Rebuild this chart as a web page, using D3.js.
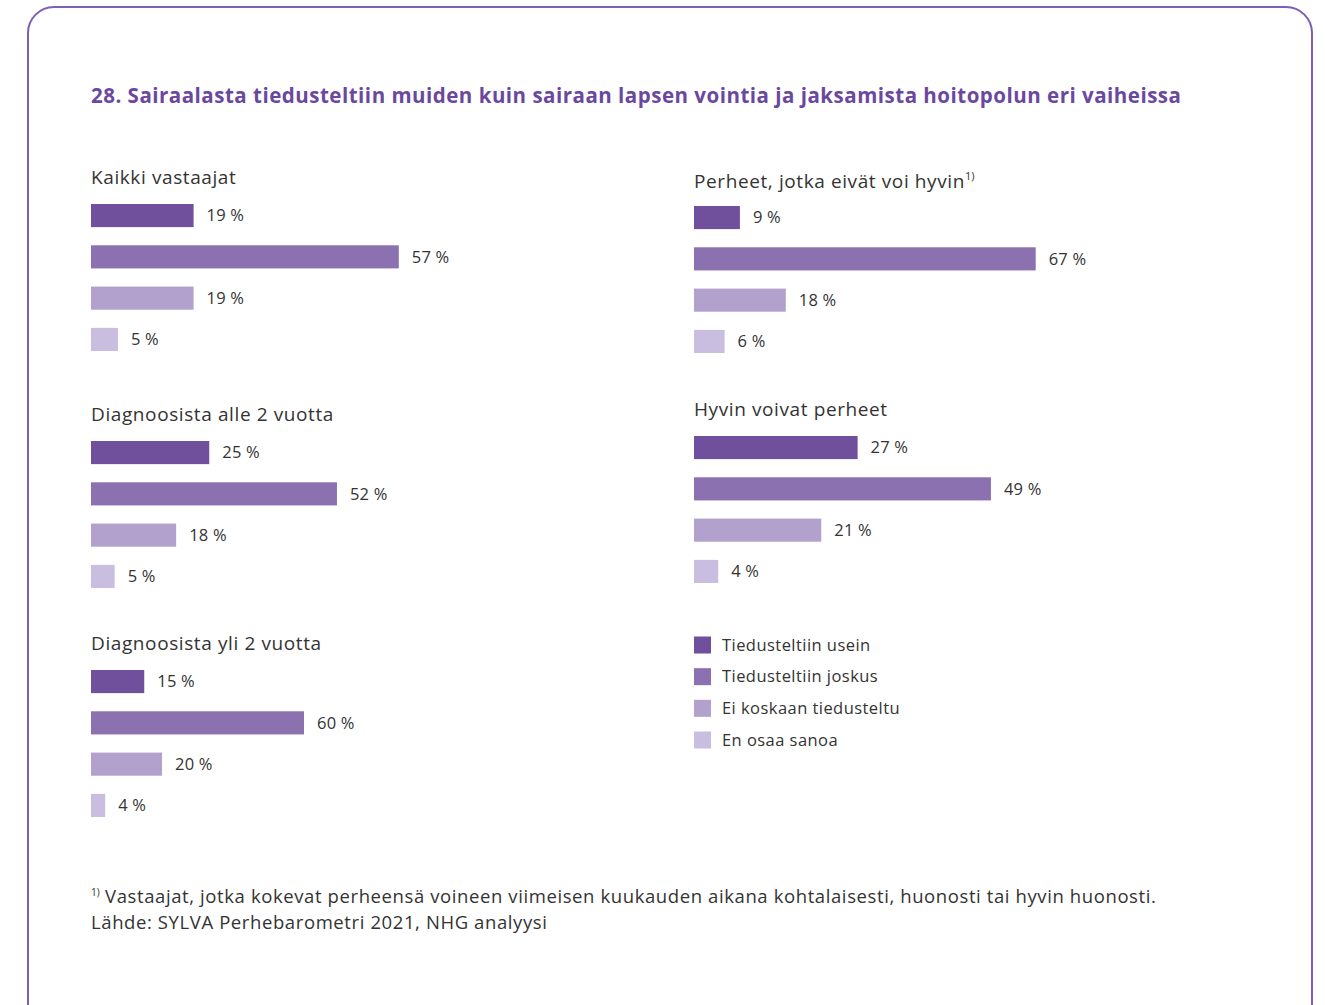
<!DOCTYPE html>
<html>
<head>
<meta charset="utf-8">
<script src="https://cdn.jsdelivr.net/npm/d3@7"></script>
<style>
  body { margin: 0; background: #fff; }
  svg text { font-family: "Open Sans", "Noto Sans", sans-serif; }
  .panelTitle { font-size: 19px; fill: #333; letter-spacing: 0.6px; }
  .valueLabel { font-size: 16.5px; fill: #333; letter-spacing: 0.2px; }
  .legendText { font-size: 16.5px; fill: #333; letter-spacing: 0.45px; }
  .footnote { font-size: 18.5px; fill: #333; letter-spacing: 0.6px; }
  .chartTitle { font-size: 20.5px; font-weight: 700; fill: #6b48a0; letter-spacing: 0.5px; }
</style>
</head>
<body>
<div id="chart"></div>
<script>
// answer categories (one bar each, in order)
var categories = ["Tiedusteltiin usein", "Tiedusteltiin joskus", "Ei koskaan tiedusteltu", "En osaa sanoa"];
var colors = ["#70509d", "#8b71b0", "#b3a1cd", "#c9bde0"];

// respondent groups
var groups = ["Kaikki vastaajat", "Diagnoosista alle 2 vuotta", "Diagnoosista yli 2 vuotta",
              "Perheet, jotka eivät voi hyvin", "Hyvin voivat perheet"];

// percentages per group, same order as categories
var kaikki = [19, 57, 19, 5];
var alle2 = [25, 52, 18, 5];
var yli2 = [15, 60, 20, 4];
var eivatVoiHyvin = [9, 67, 18, 6];
var hyvinVoivat = [27, 49, 21, 4];
var values = [kaikki, alle2, yli2, eivatVoiHyvin, hyvinVoivat];

var titleText = "28. Sairaalasta tiedusteltiin muiden kuin sairaan lapsen vointia ja jaksamista hoitopolun eri vaiheissa";
var footnote1 = " Vastaajat, jotka kokevat perheensä voineen viimeisen kuukauden aikana kohtalaisesti, huonosti tai hyvin huonosti.";
var footnote2 = "Lähde: SYLVA Perhebarometri 2021, NHG analyysi";

var width = 1325, height = 1005;

// where each small panel sits; w = pixel length of 100 %
var layout = [
    {x: 91, y: 184, w: 540},
    {x: 91, y: 421, w: 473},
    {x: 91, y: 650, w: 355},
    {x: 694, y: 188, w: 510},
    {x: 694, y: 416, w: 606}
];

var svg = d3.select("#chart").append("svg")
    .attr("width", width)
    .attr("height", height);

//frame round the whole figure
svg.append("rect")
    .attr("x", 28)
    .attr("y", 7)
    .attr("width", 1284)
    .attr("height", 1030)
    .attr("rx", 26)
    .attr("fill", "none")
    .attr("stroke", "#7e5fb5")
    .attr("stroke-width", 2);

svg.append("text")
    .attr("class", "chartTitle")
    .attr("x", 91)
    .attr("y", 103)
    .text(titleText);

// vertical placement of the 4 bars inside a panel
var yBand = d3.scaleBand()
    .domain(categories)
    .range([0, 147])
    .paddingInner(0.44)
    .paddingOuter(0);

groups.forEach(function(name, i) {
    var pos = layout[i];
    var g = svg.append("g")
        .attr("transform", "translate(" + pos.x + "," + pos.y + ")");

    var title = g.append("text")
        .attr("class", "panelTitle")
        .attr("x", 0)
        .attr("y", 0)
        .text(name);
    if (i == 3) {
        title.append("tspan")
            .attr("dy", -8)
            .style("font-size", "11px")
            .style("letter-spacing", "0px")
            .text("1)");
    }

    var xScale = d3.scaleLinear()
        .domain([0, 100])
        .range([0, pos.w]);

    var rows = categories.map(function(c, j) {
        return {cat: c, value: values[i][j], color: colors[j]};
    });

    var barTop = i == 3 ? 18 : 20;
    var bars = g.append("g").attr("transform", "translate(0," + barTop + ")");

    bars.selectAll("rect")
        .data(rows)
        .enter()
        .append("rect")
        .attr("x", 0)
        .attr("y", function(d) { return yBand(d.cat); })
        .attr("width", function(d) { return xScale(d.value); })
        .attr("height", yBand.bandwidth())
        .attr("fill", function(d) { return d.color; });

    bars.selectAll("text")
        .data(rows)
        .enter()
        .append("text")
        .attr("class", "valueLabel")
        .attr("x", function(d) { return xScale(d.value) + 13; })
        .attr("y", function(d) { return yBand(d.cat) + yBand.bandwidth() / 2; })
        .attr("dy", "0.35em")
        .text(function(d) { return d.value + " %"; });
});

// legend
var legendY = d3.scalePoint()
    .domain(categories)
    .range([645, 740]);

var legend = svg.append("g");
legend.selectAll("rect")
    .data(categories)
    .enter()
    .append("rect")
    .attr("x", 694)
    .attr("y", function(d) { return legendY(d) - 8.5; })
    .attr("width", 17)
    .attr("height", 17)
    .attr("fill", function(d, i) { return colors[i]; });
legend.selectAll("text")
    .data(categories)
    .enter()
    .append("text")
    .attr("class", "legendText")
    .attr("x", 722)
    .attr("y", function(d) { return legendY(d); })
    .attr("dy", "0.35em")
    .text(function(d) { return d; });

// footnote + source
var fn = svg.append("text")
    .attr("class", "footnote")
    .attr("x", 91)
    .attr("y", 903);
fn.append("tspan")
    .attr("dy", -7)
    .style("font-size", "10px")
    .style("letter-spacing", "0px")
    .text("1)");
fn.append("tspan")
    .attr("dy", 7)
    .text(footnote1);

svg.append("text")
    .attr("class", "footnote")
    .attr("x", 91)
    .attr("y", 929)
    .text(footnote2);
</script>
</body>
</html>
